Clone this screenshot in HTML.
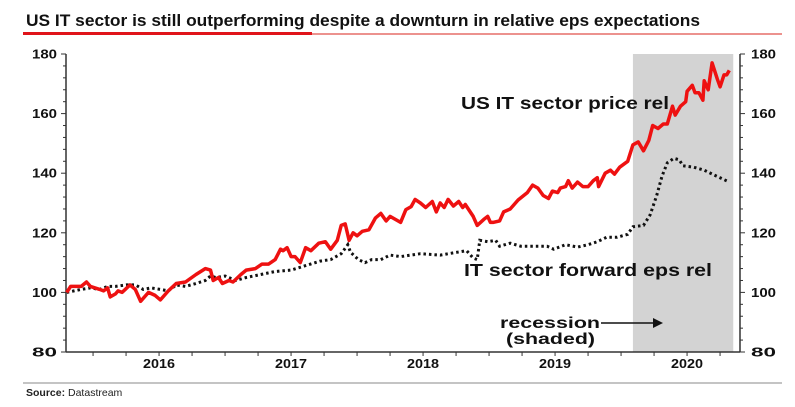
<!DOCTYPE html>
<html><head><meta charset="utf-8"><style>
body{margin:0;background:#fff;width:795px;height:402px;overflow:hidden;font-family:"Liberation Sans",Arial,sans-serif}
svg text{font-family:"Liberation Sans",Arial,sans-serif}
</style></head><body>
<svg id="chart" width="795" height="402" viewBox="0 0 795 402" xmlns="http://www.w3.org/2000/svg">
<text x="26" y="26" font-size="17" font-weight="bold" fill="#111" textLength="674" lengthAdjust="spacingAndGlyphs">US IT sector is still outperforming despite a downturn in relative eps expectations</text>
<line x1="23" y1="34" x2="782" y2="34" stroke="#d9261c" stroke-width="1"/>
<line x1="23" y1="33.5" x2="312" y2="33.5" stroke="#e0141a" stroke-width="3"/>
<g id="plot"></g>
<text x="461" y="109" font-size="17.5" font-weight="bold" fill="#111" textLength="208" lengthAdjust="spacingAndGlyphs">US IT sector price rel</text>
<text x="464" y="276" font-size="17.5" font-weight="bold" fill="#111" textLength="248" lengthAdjust="spacingAndGlyphs">IT sector forward eps rel</text>
<text x="500" y="328" font-size="16" font-weight="bold" fill="#111" textLength="100" lengthAdjust="spacingAndGlyphs">recession</text>
<text x="506" y="344" font-size="16" font-weight="bold" fill="#111" textLength="89" lengthAdjust="spacingAndGlyphs">(shaded)</text>
<line x1="601" y1="323" x2="655" y2="323" stroke="#111" stroke-width="1.5"/>
<polygon points="653,318 663,323 653,328" fill="#111"/>
<line x1="23" y1="383" x2="782" y2="383" stroke="#888" stroke-width="1"/>
<text x="26" y="396" font-size="10.5" fill="#222"><tspan font-weight="bold">Source:</tspan> Datastream</text>
</svg>
<script>
const priceDates=[2015.80,2015.83,2015.91,2015.95,2015.98,2016.05,2016.08,2016.11,2016.13,2016.17,2016.19,2016.22,2016.28,2016.32,2016.36,2016.42,2016.47,2016.51,2016.57,2016.63,2016.70,2016.78,2016.85,2016.89,2016.91,2016.95,2016.98,2017.03,2017.06,2017.12,2017.16,2017.23,2017.28,2017.33,2017.38,2017.42,2017.44,2017.47,2017.50,2017.53,2017.57,2017.61,2017.65,2017.71,2017.76,2017.80,2017.85,2017.88,2017.91,2017.94,2017.97,2018.00,2018.04,2018.09,2018.14,2018.18,2018.22,2018.25,2018.33,2018.37,2018.41,2018.44,2018.48,2018.52,2018.57,2018.60,2018.63,2018.66,2018.69,2018.73,2018.77,2018.80,2018.82,2018.88,2018.91,2018.96,2018.99,2019.01,2019.03,2019.08,2019.11,2019.16,2019.22,2019.29,2019.33,2019.37,2019.41,2019.45,2019.48,2019.52,2019.54,2019.58,2019.60,2019.63,2019.67,2019.71,2019.75,2019.79,2019.82,2019.83,2019.88,2019.92,2019.95,2019.99,2020.05,2020.09,2020.13,2020.17,2020.21,2020.24,2020.28,2020.32,2020.35,2020.39,2020.41,2020.45,2020.49,2020.50,2020.54,2020.56,2020.59,2020.62,2020.63,2020.66,2020.69,2020.73,2020.75,2020.78,2020.80,2020.82];
const priceValues=[100,102,102,103.5,102,101,100.5,101.5,98.5,99.5,100.5,100,102.5,101,97,100,99,97.5,100.5,103,103.5,106,108,107.5,104,105,103,104,103.5,106,107.5,108,109.5,109.5,111,114.5,114,115,112,112,110,115,114,116.5,117,114.5,117.5,122.5,123,117.5,120,119,120.5,121,125,126.5,124,125.5,123.5,127.8,128.8,131.2,130,128.5,130.5,127,130,128.5,131.2,129,130.5,128.5,129.5,125.5,122.5,124.5,125.5,123.5,123.5,124,127,128,131,133.5,136,135,132.5,131.5,134,133.5,135,135.5,137.5,135,137,135.5,135.5,137.5,138.5,135.5,140,141,139.7,142,144,149.5,150.5,147.5,151,156,155,156.5,156.5,162.5,159.5,162.5,164,167.5,169.5,167,167,164.5,171,168,177,171.5,169,173,173,174.5];
const epsDates=[2015.80,2015.91,2015.98,2016.05,2016.11,2016.17,2016.25,2016.32,2016.38,2016.44,2016.51,2016.57,2016.63,2016.70,2016.78,2016.85,2016.89,2016.93,2017.00,2017.08,2017.16,2017.27,2017.38,2017.50,2017.61,2017.72,2017.80,2017.88,2017.93,2017.95,2018.01,2018.06,2018.11,2018.18,2018.25,2018.33,2018.48,2018.63,2018.76,2018.83,2018.88,2018.91,2018.93,2018.99,2019.05,2019.08,2019.16,2019.24,2019.33,2019.44,2019.49,2019.58,2019.67,2019.75,2019.82,2019.89,2019.97,2020.05,2020.09,2020.17,2020.22,2020.27,2020.31,2020.35,2020.40,2020.44,2020.47,2020.55,2020.63,2020.70,2020.82];
const epsValues=[100,101,101.5,101,102,102,102.5,102.5,101,101.5,101,100.5,102.5,102,103,104,105.5,105,105.5,104,105,106,107,107.5,109,110.5,111,113,116,113.5,111,110,111,111,112.5,112,113,112.5,113.5,114,111.5,111,117.5,117,117.5,115.5,116.5,115.5,115.5,115.5,114.5,116,115.2,116,117,118.5,118.5,119.5,122,122.5,126,132.5,139,143.5,145,144.5,142.5,142,141,139.5,137];
const recession=[2020.09,2020.85];
const yTicks=[80,100,120,140,160,180];
const yearLabels=[2016,2017,2018,2019,2020];

const NS="http://www.w3.org/2000/svg";
const L=66,R=740,T=54,B=352,t0=2015.795,pxPerYear=132;
const xs=d=>L+(d-t0)*pxPerYear;
const ys=v=>B-(v-80)/100*(B-T);
const g=document.getElementById('plot');
function mk(tag,attrs){const e=document.createElementNS(NS,tag);for(const k in attrs)e.setAttribute(k,attrs[k]);g.appendChild(e);return e;}

const sh=mk('rect',{x:xs(recession[0]),y:T,width:xs(recession[1])-xs(recession[0]),height:B-T,fill:'#d3d3d3'});



const ax1=mk('line',{x1:L,y1:T,x2:L,y2:B,stroke:'#333','stroke-width':1.5});


const ax2=mk('line',{x1:R,y1:T,x2:R,y2:B,stroke:'#333','stroke-width':1.5});


const ax3=mk('line',{x1:L,y1:B,x2:R,y2:B,stroke:'#333','stroke-width':1.5});



for(let v=80;v<=180;v+=4){
  const y=ys(v);const major=(v%20===0);
  const t1=mk('line',{x1:L-(major?5:3),y1:y,x2:L,y2:y,stroke:'#333','stroke-width':1});
  
  
  const t2=mk('line',{x1:R,y1:y,x2:R+(major?5:3),y2:y,stroke:'#333','stroke-width':1});
  
  
}
yTicks.forEach(v=>{
  const a=mk('text',{x:57,y:ys(v)+4.5,'text-anchor':'end','font-size':12.5,'font-weight':'bold',fill:'#111',textLength:25,lengthAdjust:'spacingAndGlyphs'});
  a.textContent=v;
  
  
  const b=mk('text',{x:751,y:ys(v)+4.5,'font-size':12.5,'font-weight':'bold',fill:'#111',textLength:25,lengthAdjust:'spacingAndGlyphs'});
  b.textContent=v;
  
  
});
for(let q=2016;q<=2020.75;q+=0.25){
  const x=xs(q);if(x>R)break;
  const t=mk('line',{x1:x,y1:B,x2:x,y2:B+4,stroke:'#333','stroke-width':1});
  
  
}
yearLabels.forEach(yr=>{
  const t=mk('text',{x:xs(yr+0.5),y:B+16,'text-anchor':'middle','font-size':12.5,'font-weight':'bold',fill:'#111',textLength:32,lengthAdjust:'spacingAndGlyphs'});
  t.textContent=yr;
  
  
});

const epsPts=epsDates.map((d,i)=>xs(d).toFixed(1)+','+ys(epsValues[i]).toFixed(1)).join(' ');
const e=mk('polyline',{points:epsPts,fill:'none',stroke:'#111','stroke-width':3,'stroke-dasharray':'2.5 3'});


const prPts=priceDates.map((d,i)=>xs(d).toFixed(1)+','+ys(priceValues[i]).toFixed(1)).join(' ');
const p=mk('polyline',{points:prPts,fill:'none',stroke:'#ee1111','stroke-width':3.5,'stroke-linejoin':'round'});


</script>
</body></html>
